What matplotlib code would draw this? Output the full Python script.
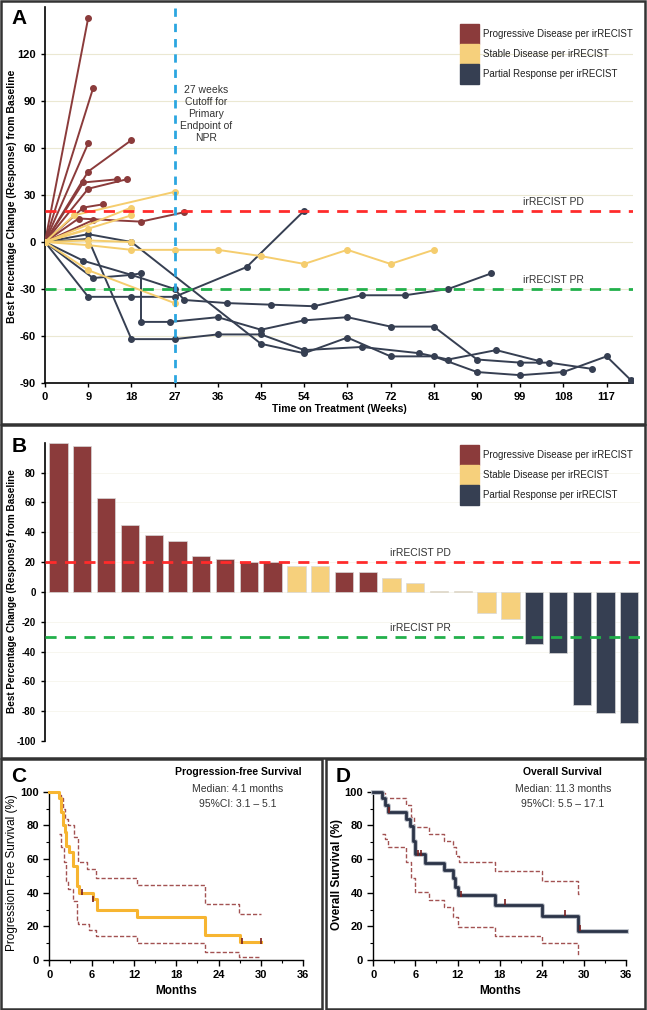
import numpy as np
import matplotlib
matplotlib.use('Agg')
import matplotlib.pyplot as plt
from matplotlib.patches import Rectangle

plt.rcParams['font.family'] = ['Liberation Sans', 'DejaVu Sans']
plt.rcParams['axes.unicode_minus'] = False

# ---- data ----
# spider plot: (weeks, % change) per patient
pd_lines = [
    ([0, 9], [0, 143]),
    ([0, 10], [0, 98]),
    ([0, 9], [0, 63]),
    ([0, 9, 18], [0, 45, 65]),
    ([0, 8, 15], [0, 38, 40]),
    ([0, 9, 17], [0, 34, 40]),
    ([0, 8, 12], [0, 22, 24]),
    ([0, 7, 20, 29], [0, 15, 13, 19]),
    ([0, 10], [0, 14]),
]
sd_lines = [
    ([0, 6, 27], [0, 17, 32]),
    ([0, 18], [0, 22]),
    ([0, 18], [0, 17]),
    ([0, 9], [0, 8]),
    ([0, 9, 18], [0, 1, 0]),
    ([0, 9, 18, 27, 36, 45, 54, 63, 72, 81], [0, -2, -5, -5, -5, -9, -14, -5, -14, -5]),
    ([0, 9, 27], [0, -18, -39]),
]
pr_lines = [
    ([0, 9, 18, 27, 42, 54], [0, -35, -35, -35, -16, 20]),
    ([0, 9, 18, 45, 54, 63, 72, 81, 90, 99, 108, 117, 122],
     [0, 5, 0, -65, -71, -61, -73, -73, -83, -85, -83, -73, -88]),
    ([0, 8, 18, 27, 29, 38, 47, 56, 66, 75, 84, 93],
     [0, -12, -21, -30, -37, -39, -40, -41, -34, -34, -30, -20]),
    ([0, 10, 18, 20, 20, 26, 36, 45, 54, 63, 72, 81, 90, 99, 105, 114],
     [0, -23, -21, -20, -51, -51, -48, -56, -50, -48, -54, -54, -75, -77, -77, -81]),
    ([0, 9, 18, 27, 36, 45, 54, 66, 78, 84, 94, 103],
     [0, 2, -62, -62, -59, -59, -69, -67, -71, -75, -69, -76]),
]

# waterfall
resp_vals = [100, 98, 63, 45, 38, 34, 24, 22, 20, 20, 17, 17, 13, 13, 9, 6, 0.5, 0.5,
             -14, -18, -35, -41, -76, -81, -88]
resp_cat = ['PD'] * 10 + ['SD'] * 2 + ['PD'] * 2 + ['SD'] * 6 + ['PR'] * 5

# PFS Kaplan-Meier
pfs_t = [0, 1.4, 1.6, 2.0, 2.2, 2.4, 2.8, 3.4, 3.9, 4.2, 6.2, 6.7, 12.5, 22.0, 27.0, 30.0]
pfs_s = [100, 96, 88, 80, 76, 68, 64, 56, 44, 40, 36, 30, 25.5, 15, 10.5, 10.5]
pfs_hi_t = [1.4, 1.6, 1.9, 2.2, 2.6, 3.5, 4.0, 5.4, 6.6, 12.5, 22.0, 26.9, 30.0]
pfs_hi_s = [98, 96, 90, 84, 80, 73, 58, 54, 49, 44.5, 33, 27.5, 27.5]
pfs_lo_t = [1.4, 1.7, 2.1, 2.3, 2.6, 3.4, 3.9, 4.1, 5.6, 6.6, 12.5, 22.0, 26.9, 30.0]
pfs_lo_s = [75, 67, 58, 47, 42, 35, 24, 21.5, 18, 14, 10, 4.5, 1.8, 1.8]
pfs_cens_t = [4.6, 6.2, 27.3, 30.0]
pfs_cens_s = [40.5, 36.5, 11, 11]

# OS Kaplan-Meier
os_t = [0, 1.3, 1.7, 2.1, 4.6, 5.2, 5.6, 5.9, 7.4, 10.1, 11.4, 11.7, 12.0, 17.4, 24.1, 29.1, 36]
os_s = [100, 96, 92, 88, 84, 79.6, 71, 63, 57.8, 53.5, 48.5, 43.6, 38.6, 32.7, 26.1, 17.4, 17.4]
os_hi_t = [1.3, 1.7, 4.6, 5.4, 5.8, 7.9, 10.1, 11.4, 11.8, 12.2, 17.4, 24.1, 29.1, 29.3]
os_hi_s = [99, 96, 92, 85, 79, 75, 71, 67, 62, 58, 53, 47, 39, 39]
os_lo_t = [1.3, 1.7, 2.1, 4.6, 5.4, 5.9, 7.9, 10.1, 11.4, 12.1, 17.4, 24.1, 29.1, 29.3]
os_lo_s = [75, 71.7, 67, 58, 49, 40.6, 35.6, 31.3, 25.7, 19.4, 14.5, 9.9, 3, 3]
os_cens_t = [2.3, 6.3, 6.8, 12.5, 18.8, 27.3, 29.5]
os_cens_s = [89, 63.5, 63.5, 39.5, 34.5, 28, 19]

legend_labels = ['Progressive Disease per irRECIST', 'Stable Disease per irRECIST',
                 'Partial Response per irRECIST']

# ---- style ----
PD_C = '#8b3b3b'
SD_C = '#f6d07c'
PR_C = '#363f52'
cat_color = {'PD': PD_C, 'SD': SD_C, 'PR': PR_C}
RED = '#ff2b2b'
GREEN = '#22b04b'
BLUE = '#2ba6e0'
CI_C = '#a35252'

W, H = 647, 1010
def fx(px):
    return px / W
def fy(py):
    return 1 - py / H
def box(l, t, r, b):
    return [fx(l), fy(b), (r - l) / W, (b - t) / H]

fig = plt.figure(figsize=(W / 100, H / 100), dpi=100)

# panel frames
for (x0, y0, x1, y1) in [(1, 1, 645, 424), (1, 425, 645, 758), (1, 759, 322, 1009), (326, 759, 645, 1009)]:
    fig.patches.append(Rectangle((fx(x0), fy(y1)), (x1 - x0) / W, (y1 - y0) / H,
                                 transform=fig.transFigure, fill=False, ec='#333333', lw=1.8))

def legend_block(top):
    for i, (c, lab) in enumerate(zip([PD_C, SD_C, PR_C], legend_labels)):
        y0 = top + i * 20
        fig.patches.append(Rectangle((fx(459.5), fy(y0 + 20)), 19.5 / W, 20 / H,
                                     transform=fig.transFigure, color=c))
        fig.text(fx(483), fy(y0 + 10), lab, va='center', ha='left', fontsize=7, color='#222222')

# ===== A: spider plot =====
axA = fig.add_axes(box(45, 7, 633, 383))
for yv in [120, 90, 60, 30, 0, -30, -60]:
    axA.axhline(yv, color='#ebe8d2', lw=0.8, zorder=0)
for x, y in pd_lines:
    axA.plot(x, y, color=PD_C, lw=1.4, marker='o', ms=4, zorder=3)
for x, y in pr_lines:
    axA.plot(x, y, color=PR_C, lw=1.4, marker='o', ms=4, zorder=3)
for x, y in sd_lines:
    axA.plot(x, y, color='#f5cd6e', lw=1.4, marker='o', ms=4, zorder=4)
axA.axhline(20, color=RED, lw=2, dashes=(4, 3), zorder=5)
axA.axhline(-30, color=GREEN, lw=2, dashes=(4, 3), zorder=5)
axA.axvline(27, color=BLUE, lw=2, dashes=(3, 2.5), zorder=5)
axA.set_xlim(0, 122.5)
axA.set_ylim(-90, 150)
axA.set_xticks(np.arange(0, 118, 9))
axA.set_yticks(np.arange(-90, 121, 30))
for s in ['top', 'right']:
    axA.spines[s].set_visible(False)
for s in ['left', 'bottom']:
    axA.spines[s].set_linewidth(1.2)
axA.tick_params(labelsize=8, length=3, width=1)
for lab in axA.get_xticklabels() + axA.get_yticklabels():
    lab.set_fontweight('bold')
axA.text(33.6, 100, '27 weeks\nCutoff for\nPrimary\nEndpoint of\nNPR', ha='center', va='top',
         fontsize=7.5, color='#333333', linespacing=1.25)
axA.text(106, 22.5, 'irRECIST PD', ha='center', va='bottom', fontsize=7.5, color='#333333')
axA.text(106, -27.5, 'irRECIST PR', ha='center', va='bottom', fontsize=7.5, color='#333333')
fig.text(fx(12.3), fy(196), 'Best Percentage Change (Response) from Baseline', rotation=90,
         ha='center', va='center', fontsize=7.5, fontweight='bold')
fig.text(fx(339), fy(409), 'Time on Treatment (Weeks)', ha='center', va='center',
         fontsize=7.5, fontweight='bold')
fig.text(fx(19), fy(19), 'A', ha='center', va='center', fontsize=15, fontweight='bold')
legend_block(24.3)

# ===== B: waterfall =====
axB = fig.add_axes(box(45, 442.7, 640, 741))
xb = np.arange(len(resp_vals))
axB.bar(xb, resp_vals, width=0.77, color=[cat_color[c] for c in resp_cat],
        edgecolor='#d8d8d8', linewidth=0.5, zorder=2)
for yv in range(-80, 100, 20):
    axB.axhline(yv, color='#f6f5ec', lw=0.6, zorder=0)
axB.axhline(20, color=RED, lw=2, dashes=(4, 3), zorder=4)
axB.axhline(-30, color=GREEN, lw=2, dashes=(4, 3), zorder=4)
axB.set_xlim(-0.57, 24.45)
axB.set_ylim(-100, 100)
axB.set_yticks(np.arange(-100, 81, 20))
axB.set_xticks([])
for s in ['top', 'right', 'bottom']:
    axB.spines[s].set_visible(False)
axB.spines['left'].set_linewidth(1.2)
axB.tick_params(labelsize=7, length=3, width=1)
for lab in axB.get_yticklabels():
    lab.set_fontweight('bold')
axB.text(15.2, 22.5, 'irRECIST PD', ha='center', va='bottom', fontsize=7.5, color='#333333')
axB.text(15.2, -27.5, 'irRECIST PR', ha='center', va='bottom', fontsize=7.5, color='#333333')
fig.text(fx(12.3), fy(591.5), 'Best Percentage Change (Response) from Baseline', rotation=90,
         ha='center', va='center', fontsize=7.2, fontweight='bold')
fig.text(fx(19), fy(447), 'B', ha='center', va='center', fontsize=15, fontweight='bold')
legend_block(445.3)

# ===== C & D: Kaplan-Meier =====
def km_axes(rect):
    ax = fig.add_axes(rect)
    ax.set_xlim(0, 36)
    ax.set_ylim(0, 100)
    ax.set_xticks(np.arange(0, 37, 6))
    ax.set_xticks(np.arange(3, 36, 6), minor=True)
    ax.set_yticks(np.arange(0, 101, 20))
    ax.set_yticks(np.arange(10, 100, 20), minor=True)
    for s in ['top', 'right']:
        ax.spines[s].set_visible(False)
    for s in ['left', 'bottom']:
        ax.spines[s].set_linewidth(1)
    ax.tick_params(labelsize=8, length=4, width=1)
    ax.tick_params(which='minor', length=2.5, width=0.8)
    for lab in ax.get_xticklabels() + ax.get_yticklabels():
        lab.set_fontweight('bold')
    return ax

axC = km_axes(box(49.3, 791.7, 303.3, 960))
axC.step(pfs_hi_t, pfs_hi_s, where='post', color=CI_C, lw=1, ls=(0, (3, 1.5)), clip_on=False)
axC.step(pfs_lo_t, pfs_lo_s, where='post', color=CI_C, lw=1, ls=(0, (3, 1.5)), clip_on=False)
axC.step(pfs_t, pfs_s, where='post', color='#f7b531', lw=2.2, clip_on=False, zorder=3)
axC.plot(pfs_cens_t, pfs_cens_s, ls='none', marker='|', ms=4, mew=1.2, color='#7a2020', zorder=4)
fig.text(fx(12), fy(873), 'Progression Free Survival (%)', rotation=90, ha='center', va='center',
         fontsize=8.5)
fig.text(fx(175.7), fy(991), 'Months', ha='center', va='center', fontsize=8.5, fontweight='bold')
fig.text(fx(238), fy(772), 'Progression-free Survival', ha='center', va='center',
         fontsize=7.5, fontweight='bold')
fig.text(fx(238), fy(788.7), 'Median: 4.1 months', ha='center', va='center', fontsize=7.5, color='#333333')
fig.text(fx(238), fy(804.3), '95%CI: 3.1 – 5.1', ha='center', va='center', fontsize=7.5, color='#333333')
fig.text(fx(19), fy(777), 'C', ha='center', va='center', fontsize=15, fontweight='bold')

axD = km_axes(box(373.3, 791.7, 626, 960))
axD.step(os_hi_t, os_hi_s, where='post', color=CI_C, lw=1, ls=(0, (3, 1.5)), clip_on=False)
axD.step(os_lo_t, os_lo_s, where='post', color=CI_C, lw=1, ls=(0, (3, 1.5)), clip_on=False)
axD.step(os_t, os_s, where='post', color='#b8bcc4', lw=3.4, clip_on=False, zorder=3)
axD.step(os_t, os_s, where='post', color='#2b3448', lw=2, clip_on=False, zorder=3)
axD.plot(os_cens_t, os_cens_s, ls='none', marker='|', ms=4, mew=1.2, color='#7a2020', zorder=4)
fig.text(fx(336.7), fy(874), 'Overall Survival (%)', rotation=90, ha='center', va='center',
         fontsize=8.5, fontweight='bold')
fig.text(fx(500), fy(991), 'Months', ha='center', va='center', fontsize=8.5, fontweight='bold')
fig.text(fx(562.7), fy(772), 'Overall Survival', ha='center', va='center',
         fontsize=7.5, fontweight='bold')
fig.text(fx(562.7), fy(788.7), 'Median: 11.3 months', ha='center', va='center', fontsize=7.5, color='#333333')
fig.text(fx(562.7), fy(804.3), '95%CI: 5.5 – 17.1', ha='center', va='center', fontsize=7.5, color='#333333')
fig.text(fx(343), fy(777), 'D', ha='center', va='center', fontsize=15, fontweight='bold')

fig.savefig('out.png', dpi=100)
